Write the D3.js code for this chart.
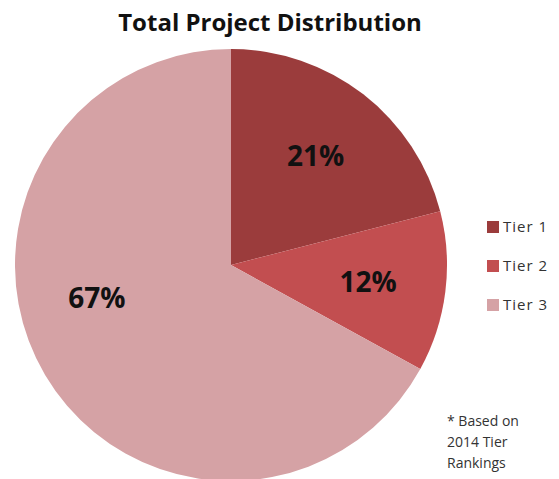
<!DOCTYPE html>
<html>
<head>
<meta charset="utf-8">
<style>
  body { margin: 0; background: #fff; }
  text { font-family: "Open Sans", "DejaVu Sans", sans-serif; }
</style>
</head>
<body>
<script src="https://cdnjs.cloudflare.com/ajax/libs/d3/7.8.5/d3.min.js"></script>
<script>
// share of projects by tier
var tiers = ["Tier 1", "Tier 2", "Tier 3"];
var shares = [21, 12, 67];
var colors = ["#9b3c3c", "#c24e50", "#d5a2a5"];
var footnote = ["* Based on", "2014 Tier", "Rankings"];

var width = 559, height = 479;
var cx = 231, cy = 265, radius = 216;

var svg = d3.select("body").append("svg")
    .attr("width", width)
    .attr("height", height);

svg.append("text")
    .attr("x", 270)
    .attr("y", 31)
    .attr("text-anchor", "middle")
    .style("font-size", "24px")
    .style("font-weight", "bold")
    .style("fill", "#111")
    .text("Total Project Distribution");

var color = d3.scaleOrdinal().domain(tiers).range(colors);

var pie = d3.pie().sort(null).value(function(d) { return d.value; });
var arc = d3.arc().innerRadius(0).outerRadius(radius);

var data = tiers.map(function(t, i) { return { name: t, value: shares[i] }; });

var g = svg.append("g").attr("transform", "translate(" + cx + "," + cy + ")");

var slices = g.selectAll("g.slice")
    .data(pie(data))
    .enter().append("g")
    .attr("class", "slice");

slices.append("path")
    .attr("d", arc)
    .style("fill", function(d) { return color(d.data.name); });

// labels sit around 0.63 r; the big slice label is pushed toward the left side
function labelPos(d) {
    var a = (d.startAngle + d.endAngle) / 2;
    if (d.endAngle - d.startAngle > Math.PI) a += 0.29;
    var r = radius * 0.64;
    return [Math.sin(a) * r, -Math.cos(a) * r];
}

slices.append("text")
    .attr("transform", function(d) {
        var c = labelPos(d);
        return "translate(" + c[0] + "," + c[1] + ")";
    })
    .attr("text-anchor", "middle")
    .attr("dy", "0.35em")
    .style("font-size", "28px")
    .style("font-weight", "bold")
    .style("fill", "#111")
    .text(function(d) { return d.data.value + "%"; });

// legend
var legend = svg.selectAll("g.legend")
    .data(tiers)
    .enter().append("g")
    .attr("class", "legend")
    .attr("transform", function(d, i) { return "translate(487," + (221 + i * 39) + ")"; });

legend.append("rect")
    .attr("width", 12)
    .attr("height", 12)
    .style("fill", function(d) { return color(d); });

legend.append("text")
    .attr("x", 16)
    .attr("y", 11)
    .style("font-size", "15px")
    .style("letter-spacing", "1px")
    .style("fill", "#333")
    .text(function(d) { return d; });

svg.selectAll("text.note")
    .data(footnote)
    .enter().append("text")
    .attr("class", "note")
    .attr("x", 447)
    .attr("y", function(d, i) { return 426 + i * 21; })
    .style("font-size", "14px")
    .style("fill", "#333")
    .text(function(d) { return d; });
</script>
</body>
</html>
